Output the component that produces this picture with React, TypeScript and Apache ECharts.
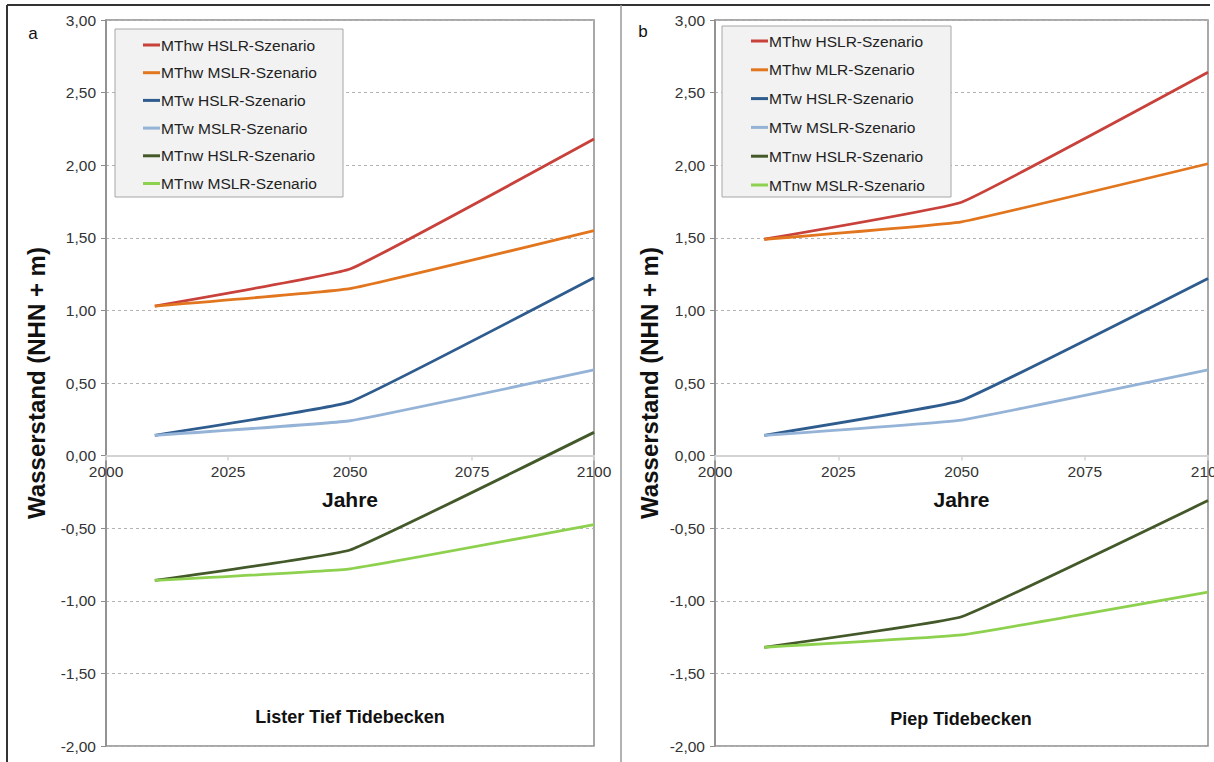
import React, { useEffect, useRef } from "react";
import * as echarts from "echarts";

const FONT = '"Liberation Sans", Arial, Helvetica, sans-serif';

// Years of the data points
const years = [2010, 2050, 2100];

// Panel a: Lister Tief Tidebecken
const mthwH_A = [1.03, 1.285, 2.18];
const mthwM_A = [1.03, 1.15, 1.55];
const mtwH_A = [0.14, 0.37, 1.225];
const mtwM_A = [0.14, 0.24, 0.59];
const mtnwH_A = [-0.86, -0.65, 0.16];
const mtnwM_A = [-0.86, -0.78, -0.475];

// Panel b: Piep Tidebecken
const mthwH_B = [1.49, 1.745, 2.64];
const mthwM_B = [1.49, 1.61, 2.01];
const mtwH_B = [0.14, 0.38, 1.22];
const mtwM_B = [0.14, 0.245, 0.59];
const mtnwH_B = [-1.32, -1.11, -0.31];
const mtnwM_B = [-1.32, -1.235, -0.94];

const namesA = [
  "MThw HSLR-Szenario",
  "MThw MSLR-Szenario",
  "MTw HSLR-Szenario",
  "MTw MSLR-Szenario",
  "MTnw HSLR-Szenario",
  "MTnw MSLR-Szenario",
];
const namesB = [
  "MThw HSLR-Szenario",
  "MThw MLR-Szenario",
  "MTw HSLR-Szenario",
  "MTw MSLR-Szenario",
  "MTnw HSLR-Szenario",
  "MTnw MSLR-Szenario",
];
const colors = ["#C8413B", "#E2761F", "#2F5C8F", "#95B3D7", "#44592A", "#8ED14F"];

const xTicks = { min: 2000, max: 2100, interval: 25 };
const yTicks = { min: -2, max: 3, interval: 0.5 };

const seriesA = [mthwH_A, mthwM_A, mtwH_A, mtwM_A, mtnwH_A, mtnwM_A];
const seriesB = [mthwH_B, mthwM_B, mtwH_B, mtwM_B, mtnwH_B, mtnwM_B];

const GRID_TOP = 20;
const GRID_H = 726;
// distance from the plot's bottom edge up to the y = 0 line
const ZERO_OFFSET = (GRID_H * (0 - yTicks.min)) / (yTicks.max - yTicks.min);

function makeX(gridIndex: number) {
  return {
    type: "value",
    gridIndex,
    min: xTicks.min,
    max: xTicks.max,
    interval: xTicks.interval,
    position: "bottom",
    offset: -ZERO_OFFSET,
    name: "Jahre",
    nameLocation: "middle",
    nameGap: 33,
    nameTextStyle: { fontFamily: FONT, fontSize: 21, fontWeight: "bold", color: "#111" },
    axisLine: { show: true, onZero: false, lineStyle: { color: "#d4d4d4", width: 2 } },
    axisTick: { show: true, length: 5, lineStyle: { color: "#d4d4d4", width: 1.5 } },
    splitLine: { show: false },
    axisLabel: {
      fontFamily: FONT,
      fontSize: 15.5,
      color: "#333",
      margin: 8,
      formatter: (v: number) => String(v),
    },
  };
}

function makeY(gridIndex: number, nameGap: number) {
  return {
    type: "value",
    gridIndex,
    min: yTicks.min,
    max: yTicks.max,
    interval: yTicks.interval,
    name: "Wasserstand (NHN + m)",
    nameLocation: "middle",
    nameGap,
    nameTextStyle: { fontFamily: FONT, fontSize: 24, fontWeight: "bold", color: "#111" },
    axisLine: { show: true, onZero: false, lineStyle: { color: "#8c8c8c", width: 1.5 } },
    axisTick: { show: true, length: 5, lineStyle: { color: "#8c8c8c", width: 1 } },
    splitLine: { show: true, lineStyle: { color: "#b3b3b3", type: [3, 3], width: 1 } },
    axisLabel: {
      fontFamily: FONT,
      fontSize: 15.5,
      color: "#333",
      margin: 10,
      formatter: (v: number) => v.toFixed(2).replace(".", ","),
    },
  };
}

function makeSeries(names: string[], data: number[][], idx: number) {
  return names.map((name, i) => ({
    type: "line",
    name,
    xAxisIndex: idx,
    yAxisIndex: idx,
    symbol: "none",
    smooth: 0.08,
    lineStyle: { color: colors[i], width: 2.8 },
    itemStyle: { color: colors[i] },
    data: years.map((y, k) => [y, data[i][k]]),
    z: 2,
  }));
}

function makeLegend(names: string[], left: number, top: number, gap: number) {
  return {
    orient: "vertical",
    left,
    top,
    padding: 0,
    itemWidth: 17,
    itemHeight: 3,
    itemGap: gap,
    icon: "rect",
    selectedMode: false,
    data: names,
    textStyle: { fontFamily: FONT, fontSize: 15.5, color: "#222", padding: [0, 0, 0, -4] },
    z: 5,
  };
}

export default function App() {
  const ref = useRef<HTMLDivElement>(null);
  useEffect(() => {
    if (!ref.current) return;
    const chart = echarts.init(ref.current, undefined, { renderer: "svg" });
    const option = {
      animation: false,
      backgroundColor: "#ffffff",
      grid: [
        {
          left: 106, top: GRID_TOP, width: 488, height: GRID_H, show: true,
          borderColor: "#8c8c8c", borderWidth: 1.5, containLabel: false, outerBoundsMode: "none",
        },
        {
          left: 715, top: GRID_TOP, width: 493, height: GRID_H, show: true,
          borderColor: "#8c8c8c", borderWidth: 1.5, containLabel: false, outerBoundsMode: "none",
        },
      ],
      xAxis: [makeX(0), makeX(1)],
      yAxis: [makeY(0, 58), makeY(1, 54)],
      legend: [makeLegend(namesA, 143, 37, 11.7), makeLegend(namesB, 751, 33, 12.8)],
      graphic: [
        { type: "line", shape: { x1: 7, y1: 5, x2: 1210, y2: 5 }, style: { stroke: "#333", lineWidth: 2 } },
        { type: "line", shape: { x1: 7, y1: 5, x2: 7, y2: 762 }, style: { stroke: "#333", lineWidth: 2 } },
        { type: "line", shape: { x1: 621, y1: 5, x2: 621, y2: 762 }, style: { stroke: "#999", lineWidth: 1.5 } },
        {
          type: "rect",
          shape: { x: 115, y: 29, width: 228, height: 168 },
          style: { fill: "#f2f2f2", stroke: "#a6a6a6", lineWidth: 1 },
          z: 3,
        },
        {
          type: "rect",
          shape: { x: 722, y: 26, width: 229, height: 171 },
          style: { fill: "#f2f2f2", stroke: "#a6a6a6", lineWidth: 1 },
          z: 3,
        },
        {
          type: "text",
          x: 33,
          y: 33,
          style: { text: "a", fontFamily: FONT, fontSize: 17, fill: "#111", textAlign: "center", textVerticalAlign: "middle", align: "center", verticalAlign: "middle" },
        },
        {
          type: "text",
          x: 643,
          y: 31,
          style: { text: "b", fontFamily: FONT, fontSize: 17, fill: "#111", textAlign: "center", textVerticalAlign: "middle", align: "center", verticalAlign: "middle" },
        },
        {
          type: "text",
          x: 350,
          y: 717,
          style: { text: "Lister Tief Tidebecken", fontFamily: FONT, fontSize: 18, fontWeight: "bold", fill: "#111", textAlign: "center", textVerticalAlign: "middle", align: "center", verticalAlign: "middle" },
        },
        {
          type: "text",
          x: 961,
          y: 719,
          style: { text: "Piep Tidebecken", fontFamily: FONT, fontSize: 18, fontWeight: "bold", fill: "#111", textAlign: "center", textVerticalAlign: "middle", align: "center", verticalAlign: "middle" },
        },
      ],
      series: [...makeSeries(namesA, seriesA, 0), ...makeSeries(namesB, seriesB, 1)],
    };
    chart.setOption(option as any);
    return () => chart.dispose();
  }, []);
  return (
    <div
      ref={ref}
      style={{ position: "fixed", left: 0, top: 0, width: 1214, height: 762, background: "#fff" }}
    />
  );
}
